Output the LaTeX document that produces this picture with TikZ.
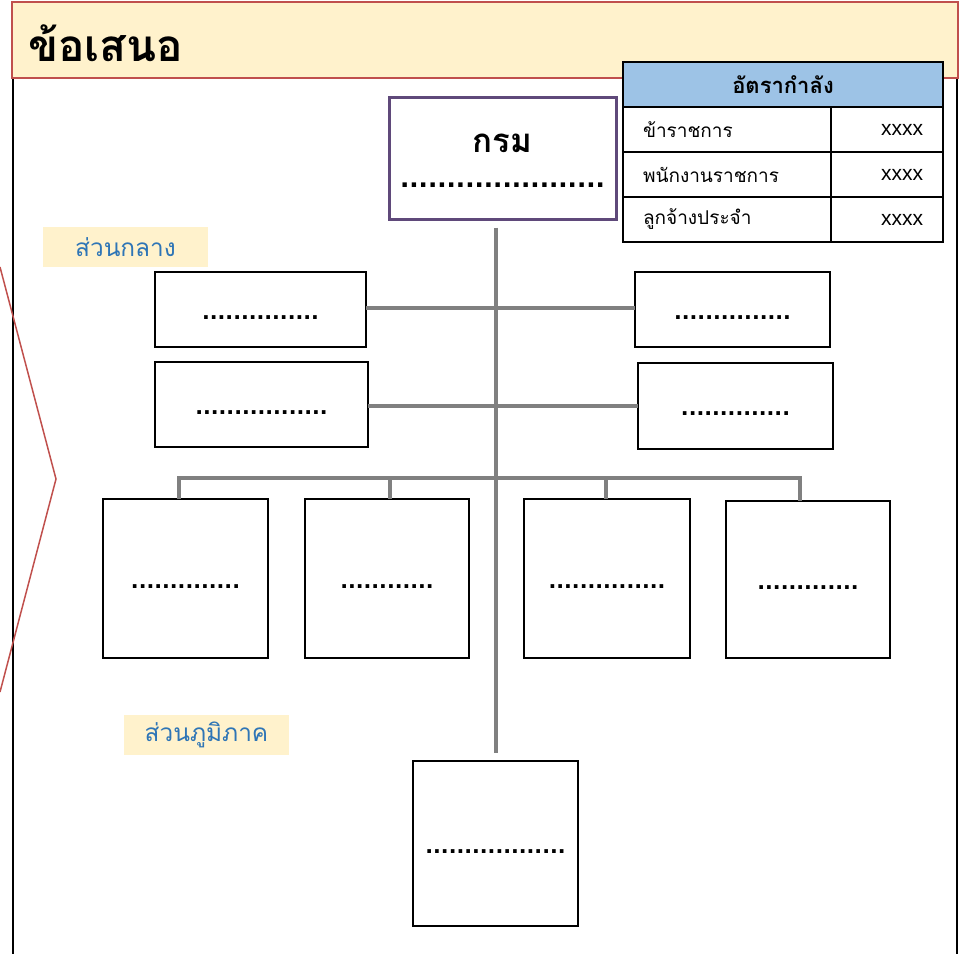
\documentclass[tikz,border=0pt]{standalone}
\usepackage{fontspec}
\newfontfamily\thai[Script=Thai]{Loma}
\newfontfamily\lat{Liberation Sans}
\newfontfamily\dotf{DejaVu Sans}
\definecolor{hdrfill}{HTML}{FFF2CC}
\definecolor{hdrline}{HTML}{C0504D}
\definecolor{tblhead}{HTML}{9DC3E6}
\definecolor{lblblue}{HTML}{2E75B6}
\definecolor{purp}{HTML}{5F497A}
\definecolor{conngray}{HTML}{808080}
\begin{document}
\begin{tikzpicture}[x=1pt,y=-1pt,
  unit/.style={draw=black, line width=1.2pt, fill=white, inner sep=0pt, outer sep=0pt, text height=19pt, font=\dotf\fontsize{20.5}{22}\selectfont\bfseries},
  conn/.style={draw=conngray, line width=4pt, line join=miter},
  cell/.style={draw=black, line width=2pt, inner sep=0pt, outer sep=0pt, minimum height=45pt, font=\thai\fontsize{19}{21}\selectfont},
  valcell/.style={cell, minimum width=112pt, text width=72pt, align=right, font=\lat\fontsize{21}{22}\selectfont},
  tag/.style={fill=hdrfill, inner sep=0pt, minimum width=165pt, minimum height=40pt, text=lblblue, font=\thai\fontsize{24.4}{26}\selectfont}
]
\useasboundingbox (0,0) rectangle (961,954);
% frame
\draw[black, line width=2pt] (13,78) -- (13,954);
\draw[black, line width=2pt] (957,78) -- (957,954);
% header band
\node[fill=hdrfill, draw=hdrline, line width=2pt, minimum width=946pt, minimum height=76pt, inner sep=0pt] (hdr) at (485,40) {};
\node[anchor=west, inner sep=0pt, font=\thai\fontsize{44}{46}\selectfont\bfseries] (title) at (28,43) {ข้อเสนอ};
% chevron
\draw[hdrline, line width=1.5pt] (0,267) -- (56,479) -- (0,692);
% tags
\node[tag] (tagc) at (125.5,247) {ส่วนกลาง};
\node[tag] (tagr) at (206.5,735) {ส่วนภูมิภาค};
% top box
\node[draw=purp, line width=3pt, fill=white, minimum width=227pt, minimum height=122pt, inner sep=0pt] (top) at (502.5,158) {};
\node[inner sep=0pt, align=center, font=\thai\fontsize{33}{35}\selectfont\bfseries] (toptext) at (502.5,161) {กรม\\{\dotf\fontsize{24.5}{35}\selectfont\bfseries......................}};
% row boxes
\node[unit, minimum width=211pt, minimum height=75pt] (l1) at (260.5,309.5) {...............};
\node[unit, minimum width=195pt, minimum height=75pt] (r1) at (732.5,309.5) {...............};
\node[unit, minimum width=213pt, minimum height=85pt] (l2) at (261.5,404.5) {.................};
\node[unit, minimum width=195pt, minimum height=86pt] (r2) at (735.5,406) {..............};
\node[unit, minimum width=165pt, minimum height=159pt] (b1) at (185.5,578.5) {..............};
\node[unit, minimum width=164pt, minimum height=159pt] (b2) at (387,578.5) {............};
\node[unit, line width=2pt, minimum width=166pt, minimum height=159pt] (b3) at (607,578.5) {...............};
\node[unit, minimum width=164pt, minimum height=157pt] (b4) at (808,579.5) {.............};
\node[unit, line width=2pt, minimum width=165pt, minimum height=165pt] (bot) at (495.5,843.5) {..................};
% connectors
\draw[conn, shorten <=7pt, shorten >=8pt] (bot.north |- top.south) -- (bot.north);
\draw[conn] (l1.east |- 0,308) -- (r1.west |- 0,308);
\draw[conn] (l2.east |- 0,406) -- (r2.west |- 0,406);
\draw[conn] ([xshift=-6.5pt]b1.north) -- ++(0,-21) -| ([xshift=-8pt]b4.north);
\draw[conn] ([xshift=3pt]b2.north) -- ++(0,-21);
\draw[conn] ([xshift=-1pt]b3.north) -- ++(0,-21);
% table
\node[cell, fill=tblhead, minimum width=320pt, font=\thai\fontsize{22}{24}\selectfont\bfseries] (th) at (783,84.5) {อัตรากำลัง};
\node[cell, minimum width=208pt, text width=168pt, align=left] (c1) at (727,129.5) {ข้าราชการ};
\node[valcell] (v1) at (887,129.5) {xxxx};
\node[cell, minimum width=208pt, text width=168pt, align=left] (c2) at (727,174.5) {พนักงานราชการ};
\node[valcell] (v2) at (887,174.5) {xxxx};
\node[cell, minimum width=208pt, text width=168pt, align=left] (c3) at (727,219.5) {ลูกจ้างประจำ};
\node[valcell] (v3) at (887,219.5) {xxxx};
\end{tikzpicture}
\end{document}
